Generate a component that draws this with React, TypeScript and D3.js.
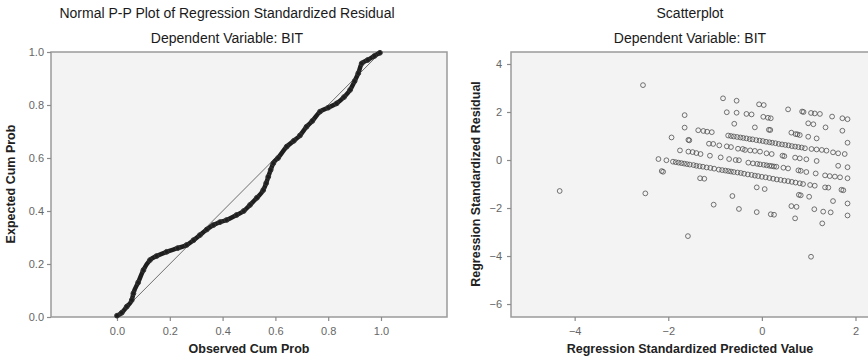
import React, { useEffect, useRef } from 'react';
import * as d3 from 'd3';

// P-P plot: observed vs expected cumulative probability
const ppObserved = [
  0.0, 0.018, 0.037, 0.056, 0.062, 0.08, 0.1, 0.125, 0.15, 0.188, 0.23, 0.264,
  0.29, 0.314, 0.34, 0.365, 0.39, 0.415, 0.453, 0.48, 0.504, 0.53, 0.554, 0.565,
  0.573, 0.582, 0.592, 0.61, 0.643, 0.67, 0.693, 0.718, 0.74, 0.769, 0.8, 0.832,
  0.86, 0.883, 0.9, 0.914, 0.927, 0.95, 0.975, 0.996,
];
const ppExpected = [
  0.005, 0.016, 0.039, 0.064, 0.089, 0.13, 0.177, 0.215, 0.23, 0.246, 0.26, 0.272,
  0.29, 0.309, 0.33, 0.347, 0.358, 0.366, 0.385, 0.4, 0.423, 0.45, 0.479, 0.505,
  0.529, 0.555, 0.58, 0.6, 0.643, 0.665, 0.685, 0.718, 0.74, 0.775, 0.79, 0.806,
  0.83, 0.857, 0.89, 0.92, 0.957, 0.97, 0.985, 0.997,
];
const ppTicks = [0, 0.2, 0.4, 0.6, 0.8, 1.0];

// scatterplot: standardized predicted value vs standardized residual
const scatterOutliers: [number, number][] = [
  [-4.32, -1.29], [-2.54, 3.12], [-2.49, -1.39], [-1.58, -3.17], [1.05, -4.03],
];
const scatterUpper: [number, number][] = [
  [-0.83, 2.57], [-0.54, 2.47], [-0.06, 2.32], [0.04, 2.29], [0.56, 2.11], [0.86, 2.02],
  [0.89, 2.0], [1.05, 1.96], [1.13, 1.94], [1.24, 1.92], [1.5, 1.81], [1.72, 1.74], [1.83, 1.7],
  [-0.75, 1.99], [-0.54, 1.97], [-0.33, 1.92], [-0.22, 1.9], [0.03, 1.8], [0.13, 1.76],
  [0.19, 1.74], [0.99, 1.53], [1.1, 1.49], [1.36, 1.36], [1.72, 1.22],
  [-1.65, 1.87], [-0.59, 1.51], [-0.15, 1.36], [0.15, 1.26], [0.18, 1.25], [0.63, 1.14],
  [0.72, 1.08], [0.76, 1.07], [0.81, 1.04], [0.99, 0.97], [1.17, 0.9], [1.83, 0.72],
];
const scatterMiddle: [number, number][] = [
  [-1.65, 1.35], [-1.36, 1.24], [-1.25, 1.21], [-1.17, 1.18], [-1.07, 1.16],
  [-0.72, 1.02], [-0.66, 1.0], [-0.6, 0.98], [-0.53, 0.96], [-0.46, 0.94], [-0.4, 0.92],
  [-0.33, 0.9], [-0.26, 0.87], [-0.2, 0.86], [-0.12, 0.83], [-0.05, 0.81], [0.02, 0.79],
  [0.09, 0.76], [0.16, 0.74], [0.22, 0.72], [0.29, 0.7], [0.36, 0.67], [0.43, 0.65],
  [0.5, 0.63], [0.57, 0.61], [0.64, 0.58], [0.71, 0.56], [0.78, 0.54], [0.85, 0.52],
  [0.92, 0.49], [1.06, 0.46], [1.17, 0.44], [1.28, 0.42], [1.38, 0.39], [1.52, 0.32],
  [1.63, 0.28], [1.77, 0.25],
  [-1.93, 0.94], [-1.57, 0.84], [-1.55, 0.82], [-1.13, 0.68], [-1.04, 0.67], [-0.91, 0.61],
  [-0.75, 0.57], [-0.66, 0.54], [-0.51, 0.47], [-0.41, 0.46], [-0.36, 0.42], [-0.25, 0.4],
  [-0.15, 0.38], [-0.04, 0.35], [0.1, 0.28], [0.21, 0.25], [0.44, 0.18], [0.48, 0.16],
  [0.71, 0.1], [0.81, 0.07], [0.95, 0.03], [1.17, -0.04], [1.63, -0.24], [1.83, -0.3],
  [-1.75, 0.4], [-1.57, 0.35], [-1.48, 0.33], [-1.4, 0.29], [-1.31, 0.25], [-1.11, 0.18],
  [-0.88, 0.11], [-0.7, 0.04], [-0.56, 0.0], [-0.49, -0.01], [-0.29, -0.11], [-0.19, -0.14],
  [-0.1, -0.16], [-0.04, -0.18], [0.04, -0.2], [0.1, -0.22], [0.16, -0.24], [0.21, -0.25],
  [0.26, -0.27], [0.31, -0.28], [0.46, -0.32], [0.56, -0.35], [0.78, -0.43], [0.83, -0.45],
  [0.95, -0.5], [1.15, -0.56], [1.35, -0.64], [1.45, -0.67], [1.56, -0.69], [1.67, -0.72],
  [1.83, -0.76],
];
const scatterLower: [number, number][] = [
  [-2.21, 0.04], [-2.04, -0.01], [-1.9, -0.07], [-1.84, -0.09], [-1.78, -0.11], [-1.72, -0.13],
  [-1.66, -0.15], [-1.6, -0.17], [-1.54, -0.19], [-1.46, -0.21], [-1.4, -0.24], [-1.33, -0.26],
  [-1.26, -0.28], [-1.18, -0.31], [-1.1, -0.33], [-1.02, -0.36], [-0.92, -0.4], [-0.85, -0.42],
  [-0.78, -0.44], [-0.72, -0.46], [-0.66, -0.48], [-0.6, -0.5], [-0.52, -0.52], [-0.45, -0.54],
  [-0.38, -0.57], [-0.3, -0.6], [-0.22, -0.62], [-0.15, -0.65], [-0.08, -0.67], [0.0, -0.7],
  [0.08, -0.72], [0.16, -0.75], [0.24, -0.78], [0.32, -0.81], [0.4, -0.83], [0.48, -0.86],
  [0.56, -0.88], [0.64, -0.91], [0.72, -0.94], [0.81, -0.97], [0.88, -1.0], [1.03, -1.04],
  [1.13, -1.07], [1.35, -1.14], [1.42, -1.15], [1.7, -1.24], [1.74, -1.26],
  [-2.14, -0.46], [-2.11, -0.49], [-1.32, -0.76], [-1.23, -0.78], [-0.11, -1.14], [0.06, -1.21],
  [0.79, -1.45], [0.83, -1.47], [1.01, -1.53], [1.52, -1.71], [1.83, -1.81],
  [-0.63, -1.5], [0.63, -1.92], [0.74, -1.95], [1.12, -2.05], [1.31, -2.15], [1.47, -2.18],
  [1.83, -2.31],
  [-1.03, -1.86], [-0.49, -2.04], [-0.11, -2.17], [0.19, -2.26], [0.26, -2.28], [0.71, -2.43],
  [1.29, -2.64],
];
const predTicks = [-4, -2, 0, 2];
const residTicks = [4, 2, 0, -2, -4, -6];

const W = 868;
const H = 360;
const FONT = '"Liberation Sans", Arial, sans-serif';

const App = () => {
  const svgRef = useRef<SVGSVGElement>(null);

  useEffect(() => {
    const svg = d3.select(svgRef.current);
    svg.selectAll('*').remove();
    svg.attr('font-family', FONT);

    const styleAxis = (g: any) => {
      g.select('.domain').remove();
      g.selectAll('.tick line').attr('stroke', '#8a8a8a').attr('stroke-width', 1.2);
      g.selectAll('.tick text').attr('fill', '#666').attr('font-size', 11).attr('font-family', FONT);
    };

    const frame = (x0: number, y0: number, x1: number, y1: number) => {
      svg
        .append('rect')
        .attr('x', x0)
        .attr('y', y0)
        .attr('width', x1 - x0)
        .attr('height', y1 - y0)
        .attr('fill', '#f3f3f3')
        .attr('stroke', '#9a9a9a')
        .attr('stroke-width', 1.5);
    };

    const title = (cx: number, y: number, txt: string) =>
      svg
        .append('text')
        .attr('x', cx)
        .attr('y', y)
        .attr('text-anchor', 'middle')
        .attr('font-size', 14)
        .attr('fill', '#1a1a1a')
        .text(txt);

    // ---------- left: Normal P-P plot ----------
    const x1 = d3.scaleLinear().domain([-0.25, 1.25]).range([51, 447]);
    const y1 = d3.scaleLinear().domain([0, 1]).range([317, 52]);

    frame(51, 52, 447, 317);

    svg
      .append('g')
      .attr('transform', 'translate(0,317)')
      .call(d3.axisBottom(x1).tickValues(ppTicks).tickFormat(d3.format('.1f')).tickSize(4).tickPadding(6))
      .call(styleAxis);
    svg
      .append('g')
      .attr('transform', 'translate(51,0)')
      .call(d3.axisLeft(y1).tickValues(ppTicks).tickFormat(d3.format('.1f')).tickSize(4).tickPadding(3))
      .call(styleAxis);

    svg
      .append('line')
      .attr('x1', x1(0))
      .attr('y1', y1(0))
      .attr('x2', x1(1))
      .attr('y2', y1(1))
      .attr('stroke', '#6e6e6e')
      .attr('stroke-width', 1);

    const ppData = ppObserved.map((o, i) => [o, ppExpected[i]] as [number, number]);
    const ppLine = d3
      .line<[number, number]>()
      .x(d => x1(d[0]))
      .y(d => y1(d[1]))
      .curve(d3.curveMonotoneX);

    svg
      .append('path')
      .datum(ppData)
      .attr('d', ppLine)
      .attr('fill', 'none')
      .attr('stroke', '#1e1e1e')
      .attr('stroke-width', 4.5)
      .attr('stroke-linejoin', 'round')
      .attr('stroke-linecap', 'round');

    svg
      .append('g')
      .selectAll('circle')
      .data(ppData)
      .enter()
      .append('circle')
      .attr('cx', d => x1(d[0]))
      .attr('cy', d => y1(d[1]))
      .attr('r', 2.4)
      .attr('fill', 'none')
      .attr('stroke', '#333')
      .attr('stroke-width', 1);

    title(227, 18, 'Normal P-P Plot of Regression Standardized Residual');
    title(227, 43, 'Dependent Variable: BIT');

    svg
      .append('text')
      .attr('x', 249)
      .attr('y', 353)
      .attr('text-anchor', 'middle')
      .attr('font-size', 12.5)
      .attr('font-weight', 'bold')
      .attr('fill', '#222')
      .text('Observed Cum Prob');
    svg
      .append('text')
      .attr('transform', 'translate(15,184) rotate(-90)')
      .attr('text-anchor', 'middle')
      .attr('font-size', 12.5)
      .attr('font-weight', 'bold')
      .attr('fill', '#222')
      .text('Expected Cum Prob');

    // ---------- right: Scatterplot ----------
    const x2 = d3.scaleLinear().domain([-5.36, 2.31]).range([511, 870]);
    const y2 = d3.scaleLinear().domain([-6.54, 4.5]).range([317, 52]);

    frame(511, 52, 870, 317);

    svg
      .append('g')
      .attr('transform', 'translate(0,317)')
      .call(d3.axisBottom(x2).tickValues(predTicks).tickFormat(d3.format('d')).tickSize(4).tickPadding(6))
      .call(styleAxis);
    svg
      .append('g')
      .attr('transform', 'translate(511,0)')
      .call(d3.axisLeft(y2).tickValues(residTicks).tickFormat(d3.format('d')).tickSize(4).tickPadding(5))
      .call(styleAxis);

    const allPoints = [...scatterOutliers, ...scatterUpper, ...scatterMiddle, ...scatterLower];
    svg
      .append('g')
      .selectAll('circle')
      .data(allPoints)
      .enter()
      .append('circle')
      .attr('cx', d => x2(d[0]))
      .attr('cy', d => y2(d[1]))
      .attr('r', 2.4)
      .attr('fill', 'none')
      .attr('stroke', '#4a4a4a')
      .attr('stroke-opacity', 0.85)
      .attr('stroke-width', 0.9);

    title(690, 18, 'Scatterplot');
    title(690, 43, 'Dependent Variable: BIT');

    svg
      .append('text')
      .attr('x', 690)
      .attr('y', 353)
      .attr('text-anchor', 'middle')
      .attr('font-size', 12.5)
      .attr('font-weight', 'bold')
      .attr('fill', '#222')
      .text('Regression Standardized Predicted Value');
    svg
      .append('text')
      .attr('transform', 'translate(480,184) rotate(-90)')
      .attr('text-anchor', 'middle')
      .attr('font-size', 12.5)
      .attr('font-weight', 'bold')
      .attr('fill', '#222')
      .text('Regression Standardized Residual');
  }, []);

  return (
    <svg
      ref={svgRef}
      width={W}
      height={H}
      style={{ position: 'absolute', left: 0, top: 0, background: '#fff' }}
    ></svg>
  );
};

export default App;
